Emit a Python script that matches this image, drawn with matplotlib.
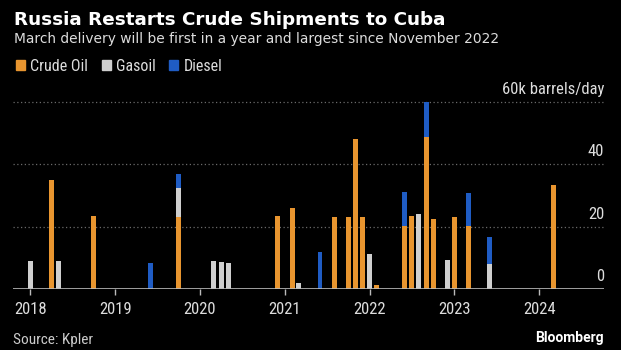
import pandas as pd
import matplotlib.pyplot as plt
import matplotlib.dates as mdates
from matplotlib.patches import Patch

narrow = ['Roboto Condensed', 'Archivo Narrow', 'Liberation Sans', 'DejaVu Sans']
plt.rcParams['font.family'] = narrow

# monthly shipments, thousand barrels/day
months = ["2018-01", "2018-04", "2018-05", "2018-10", "2019-06", "2019-10",
          "2020-03", "2020-04", "2020-05", "2020-12", "2021-02", "2021-03",
          "2021-06", "2021-08", "2021-10", "2021-11", "2021-12", "2022-01",
          "2022-02", "2022-06", "2022-07", "2022-08", "2022-09", "2022-10",
          "2022-12", "2023-01", "2023-03", "2023-06", "2024-03"]
crude = [0, 35, 0, 23.4, 0, 23, 0, 0, 0, 23.5, 26, 0, 0, 23, 23, 48.2, 23, 0,
         1.4, 20.3, 23.5, 0, 48.8, 22.5, 0, 23, 20.3, 0, 33.2]
gasoil = [9, 0, 9, 0, 0, 9.4, 9, 8.8, 8.4, 0, 0, 2, 0, 0, 0, 0, 0, 11.1,
          0, 0, 0, 24.2, 0, 0, 9.4, 0, 0, 8.1, 0]
diesel = [0, 0, 0, 0, 8.5, 4.3, 0, 0, 0, 0, 0, 0, 12, 0, 0, 0, 0, 0,
          0, 10.8, 0, 0, 11.2, 0, 0, 0, 10.5, 8.5, 0]
y_ticks = [0, 20, 40, 60]

orange, grey, blue = "#E8952F", "#CFCFCF", "#1F5CC4"
bg = "black"

dates = pd.to_datetime(months)
bottom2 = [c + g for c, g in zip(crude, gasoil)]

fig = plt.figure(figsize=(6.21, 3.5), dpi=100, facecolor=bg)
ax = fig.add_axes([0.021, 0.174, 0.952, 0.540], facecolor=bg)

ax.bar(dates, crude, width=21, color=orange)
ax.bar(dates, gasoil, width=21, bottom=crude, color=grey)
ax.bar(dates, diesel, width=21, bottom=bottom2, color=blue)

ax.set_xlim(pd.Timestamp("2017-10-18"), pd.Timestamp("2024-10-07"))
ax.set_ylim(0, 60.5)

for spine in ax.spines.values():
    spine.set_visible(False)
ax.axhline(0, color="#BBBBBB", lw=1.2, zorder=3)
for t in y_ticks[1:]:
    ax.axhline(t, color="#6A6A6A", lw=0.9, ls=(0, (1, 2)), zorder=0)

ax.xaxis.set_major_locator(mdates.YearLocator())
ax.xaxis.set_major_formatter(mdates.DateFormatter("%Y"))
ax.tick_params(axis="x", colors="#BBBBBB", labelcolor="#DDDDDD",
               labelsize=12, length=4, width=1, pad=5)
ax.set_yticks([])

for t in y_ticks:
    label = "60k barrels/day" if t == 60 else str(t)
    ax.annotate(label, xy=(1.0, t), xycoords=("axes fraction", "data"),
                xytext=(0, 3.5), textcoords="offset points",
                ha="right", va="bottom", color="#DDDDDD", fontsize=12)

fig.text(0.022, 0.9286, "Russia Restarts Crude Shipments to Cuba",
         color="white", fontsize=13.2, fontweight="bold",
         family=["DejaVu Sans"], va="baseline")
fig.text(0.022, 0.877, "March delivery will be first in a year and largest since November 2022",
         color="#DDDDDD", fontsize=9.9, family=["DejaVu Sans"], va="baseline")

handles = [Patch(color=orange, label="Crude Oil"),
           Patch(color=grey, label="Gasoil"),
           Patch(color=blue, label="Diesel")]
leg = fig.legend(handles=handles, loc="center left", bbox_to_anchor=(0.002, 0.811),
                 ncol=3, frameon=False, handlelength=0.56, handleheight=0.56,
                 handletextpad=0.35, columnspacing=0.85, fontsize=11.5)
for text in leg.get_texts():
    text.set_color("#DDDDDD")

fig.text(0.021, 0.017, "Source: Kpler", color="#CCCCCC", fontsize=11, va="baseline")
fig.text(0.972, 0.023, "Bloomberg", color="white", fontsize=10,
         fontweight="bold", ha="right", family=["Roboto", "DejaVu Sans"], va="baseline")

fig.savefig("out.png", dpi=100, facecolor=bg)
